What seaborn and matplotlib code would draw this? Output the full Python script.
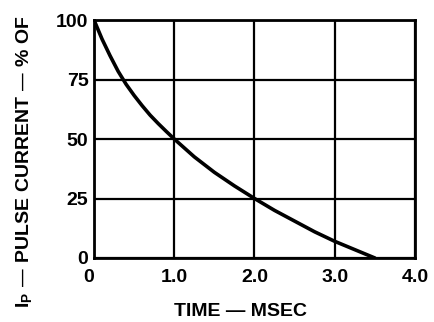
import matplotlib
matplotlib.use("Agg")
import matplotlib.pyplot as plt
import seaborn as sns
import pandas as pd

# pulse current decay curve
time_ms = [0, 0.1, 0.2, 0.3, 0.4, 0.5, 0.6, 0.7, 0.8, 0.9, 1.0,
           1.25, 1.5, 1.75, 2.0, 2.25, 2.5, 2.75, 3.0, 3.25, 3.5]
current_pct = [100, 92, 85, 78.5, 73, 68.3, 64, 60, 56.5, 53.2, 50,
               42.5, 36, 30.3, 25, 20, 15.5, 11, 7, 3.5, 0]

x_ticks = [0, 1, 2, 3, 4]
x_labels = ["0", "1.0", "2.0", "3.0", "4.0"]
y_ticks = [0, 25, 50, 75, 100]
y_labels = ["0", "25", "50", "75", "100"]

df = pd.DataFrame({"time": time_ms, "current": current_pct})

sns.set_style("white")
plt.rcParams["font.family"] = ["Liberation Sans", "DejaVu Sans"]
plt.rcParams["text.color"] = "black"
plt.rcParams["xtick.color"] = "black"
plt.rcParams["ytick.color"] = "black"

fig = plt.figure(figsize=(4.34, 3.22), dpi=100)
ax = fig.add_axes([94 / 434, 64 / 322, 321 / 434, 238 / 322])

sns.lineplot(data=df, x="time", y="current", ax=ax, color="black", linewidth=2.6)

ax.set_xlim(0, 4)
ax.set_ylim(0, 100)
ax.set_xticks(x_ticks)
ax.set_xticklabels(x_labels, fontsize=14, fontweight="bold")
ax.set_yticks(y_ticks)
ax.set_yticklabels(y_labels, fontsize=14, fontweight="bold")
ax.tick_params(axis="x", length=0, pad=8)
ax.tick_params(axis="y", length=0, pad=4)
ax.get_xticklabels()[0].set_ha("right")
ax.grid(True, color="black", linewidth=1.6)
for s in ax.spines.values():
    s.set_color("black")
    s.set_linewidth(2)
ax.set_xlabel("")
ax.set_ylabel("")

fig.text(240 / 434, 11 / 322, "TIME \u2014 MSEC", ha="center", va="center",
         fontsize=14, fontweight="bold")
fig.text(25 / 434, 14 / 322, "I$_\\mathregular{P}$ \u2014 PULSE CURRENT \u2014 % OF",
         rotation=90, ha="center", va="bottom", fontsize=14, fontweight="bold")

fig.savefig("out.png", dpi=100)
